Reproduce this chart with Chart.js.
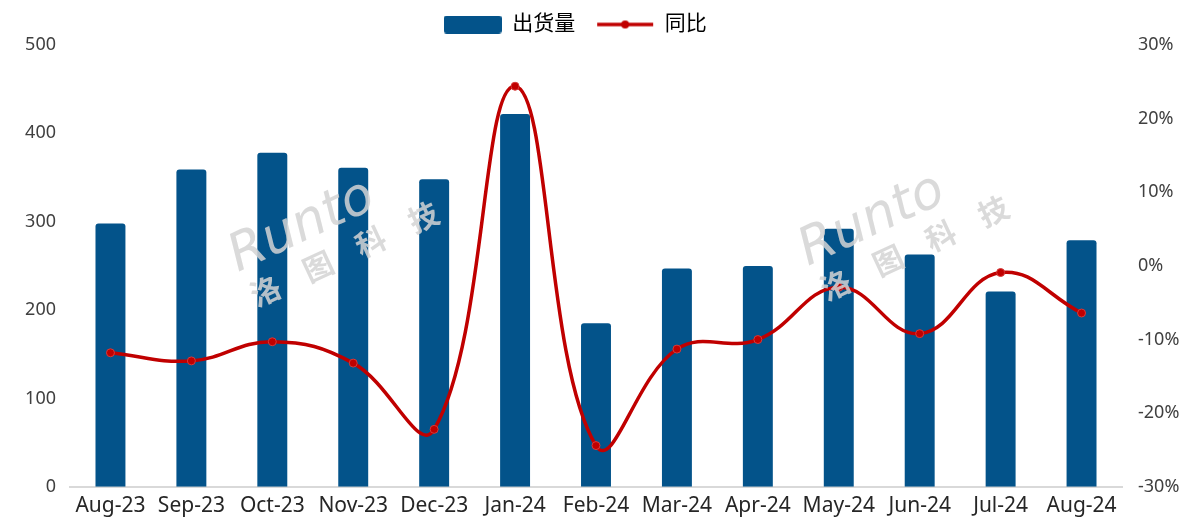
<!DOCTYPE html>
<html>
<head>
<meta charset="utf-8">
<script src="https://cdn.jsdelivr.net/npm/chart.js@4.4.1/dist/chart.umd.min.js"></script>
<style>
html,body{margin:0;padding:0;background:#fff;}
#wrap{width:1194px;height:528px;position:relative;}
</style>
</head>
<body>
<div id="wrap"><canvas id="c" width="1194" height="528"></canvas></div>
<script>
const categories = ['Aug-23','Sep-23','Oct-23','Nov-23','Dec-23','Jan-24','Feb-24','Mar-24','Apr-24','May-24','Jun-24','Jul-24','Aug-24'];
const shipments = [298, 359, 378, 361, 348, 422, 185, 247, 250, 292, 263, 221, 279];
const yoy = [-11.8, -12.9, -10.3, -13.2, -22.2, 24.4, -24.4, -11.3, -10.0, -2.9, -9.2, -0.9, -6.4];
const leftTicks = [0, 100, 200, 300, 400, 500];
const rightTicks = [-30, -20, -10, 0, 10, 20, 30];
const seriesNames = ['出货量', '同比'];

const BAR = '#03538A';
const LINE = '#C00000';
const FONT = "'Noto Sans', 'Noto Sans CJK SC', sans-serif";

function makeBarIcon(){
  const c = document.createElement('canvas'); c.width = 58; c.height = 18;
  const x = c.getContext('2d'); x.fillStyle = BAR;
  x.beginPath(); x.roundRect(0,0,58,18,3); x.fill();
  return c;
}
function makeLineIcon(){
  const c = document.createElement('canvas'); c.width = 58; c.height = 18;
  const x = c.getContext('2d'); x.strokeStyle = LINE; x.lineWidth = 3.5;
  x.beginPath(); x.moveTo(1,9); x.lineTo(57,9); x.stroke();
  x.fillStyle = LINE; x.beginPath(); x.arc(29,9,4,0,Math.PI*2); x.fill();
  return c;
}
const icons = [makeBarIcon(), makeLineIcon()];

const watermark = {
  id: 'watermark',
  afterDatasetsDraw(chart){
    const ctx = chart.ctx;
    const spots = [[238, 272], [808, 266]];
    ctx.save();
    ctx.fillStyle = 'rgba(212,212,212,0.85)';
    spots.forEach(([x0,y0])=>{
      ctx.save();
      ctx.translate(x0, y0);
      ctx.rotate(-25*Math.PI/180);
      ctx.font = "italic 52px 'DejaVu Sans', sans-serif";
      ctx.textBaseline = 'alphabetic';
      ctx.fillText('Runto', 0, 0);
      ctx.font = "bold 30px 'Noto Sans CJK SC', sans-serif";
      const chars = '洛图科技';
      for(let i=0;i<chars.length;i++){
        ctx.fillText(chars[i], 2 + i*58, 40);
      }
      ctx.restore();
    });
    ctx.restore();
  }
};

new Chart(document.getElementById('c'), {
  data: {
    labels: categories,
    datasets: [
      {
        type: 'line',
        label: seriesNames[1],
        data: yoy,
        yAxisID: 'y1',
        borderColor: LINE,
        backgroundColor: LINE,
        borderWidth: 3.5,
        pointRadius: 4,
        pointBackgroundColor: LINE,
        pointBorderColor: '#D63A3A',
        pointBorderWidth: 1,
        tension: 0.42,
        order: 0
      },
      {
        type: 'bar',
        label: seriesNames[0],
        data: shipments,
        yAxisID: 'y',
        backgroundColor: BAR,
        borderRadius: {topLeft: 3, topRight: 3, bottomLeft: 0, bottomRight: 0},
        borderSkipped: 'bottom',
        barPercentage: 0.37,
        categoryPercentage: 1,
        order: 1
      }
    ]
  },
  options: {
    responsive: false,
    animation: false,
    devicePixelRatio: 1,
    layout: { padding: { top: -7, bottom: 2, left: 0, right: 0 } },
    plugins: {
      tooltip: { enabled: false },
      legend: {
        position: 'top',
        align: 'center',
        labels: {
          usePointStyle: true,
          pointStyleWidth: 58,
          boxHeight: 18,
          padding: 21,
          color: '#1a1a1a',
          font: { family: FONT, size: 21 },
          generateLabels(chart){
            return [0,1].map(i=>({
              text: i===1 ? seriesNames[i] + '        ' : seriesNames[i],
              pointStyle: icons[i],
              fillStyle: i===0?BAR:LINE,
              strokeStyle: 'transparent',
              lineWidth: 0,
              datasetIndex: i===0?1:0,
              hidden: false
            }));
          }
        }
      }
    },
    scales: {
      x: {
        grid: { display: false, drawTicks: false },
        border: { display: true, color: '#D9D9D9', width: 2 },
        ticks: { color: '#262626', font: { family: FONT, size: 21 }, padding: 7, maxRotation: 0, autoSkip: false }
      },
      y: {
        position: 'left',
        min: 0, max: 500,
        afterBuildTicks(s){ s.ticks = leftTicks.map(v=>({value:v})); },
        afterFit(s){ s.width = 70; },
        grid: { display: false, drawTicks: false },
        border: { display: false },
        ticks: { color: '#404040', font: { family: FONT, size: 18 }, padding: 14 }
      },
      y1: {
        position: 'right',
        min: -30, max: 30,
        afterBuildTicks(s){ s.ticks = rightTicks.map(v=>({value:v})); },
        afterFit(s){ s.width = 72; },
        grid: { display: false, drawTicks: false },
        border: { display: false },
        ticks: { color: '#404040', font: { family: FONT, size: 18 }, padding: 16, callback: v => v + '%' }
      }
    }
  },
  plugins: [watermark]
});
</script>
</body>
</html>
